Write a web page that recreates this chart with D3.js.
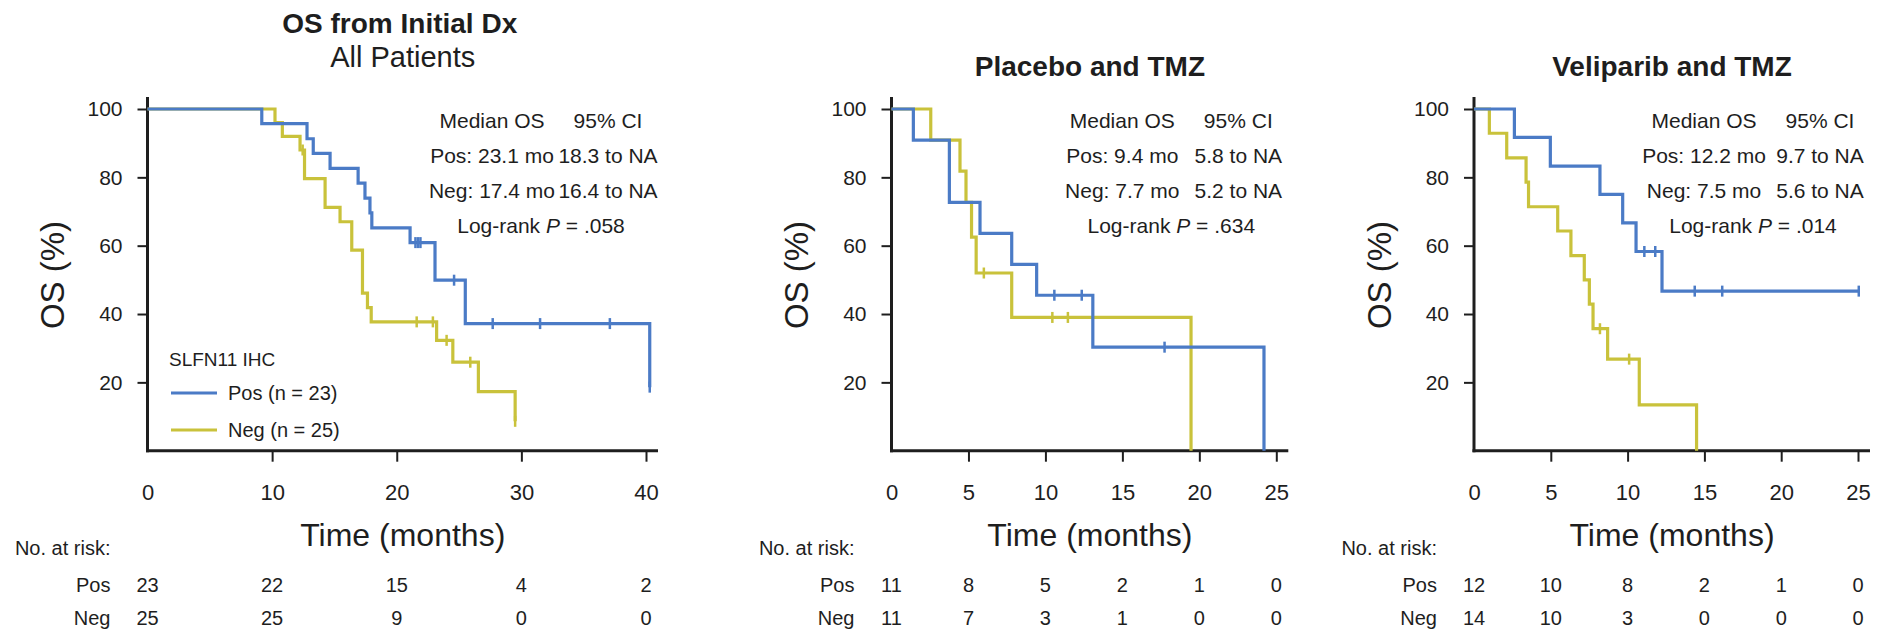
<!DOCTYPE html>
<html>
<head>
<meta charset="utf-8">
<script src="https://cdn.jsdelivr.net/npm/d3@7"></script>
<style>
  body { margin: 0; background: #fff; }
  svg { display: block; font-family: "Liberation Sans", Arial, Helvetica, sans-serif; }
</style>
</head>
<body>
<div id="chart"></div>
<script>
// ---- data ----
const panelTitles = [["OS from Initial Dx", "All Patients"], ["Placebo and TMZ"], ["Veliparib and TMZ"]];
const timeMax = [40, 25, 25];
const timeTicks = [[0, 10, 20, 30, 40], [0, 5, 10, 15, 20, 25], [0, 5, 10, 15, 20, 25]];
const osTicks = [20, 40, 60, 80, 100];

// Kaplan-Meier steps: [months, OS %]
const allPosSteps = [[0, 100], [9.17, 95.7], [12.8, 91.3], [13.3, 87.0], [14.65, 82.6], [16.9, 78.3], [17.45, 73.9], [17.85, 69.6], [18.0, 65.2], [21.07, 60.9], [23.07, 49.9], [25.5, 37.2], [40.3, 18.6]];
const allPosCensor = [21.5, 21.7, 21.9, 24.6, 27.7, 31.5, 37.1, 40.3];
const allNegSteps = [[0, 100], [10.23, 96], [10.82, 92], [12.24, 88], [12.6, 79.6], [14.25, 71.2], [15.45, 67.0], [16.39, 58.7], [17.25, 46.1], [17.65, 41.9], [17.95, 37.7], [23.2, 32.3], [24.5, 25.9], [26.55, 17.3], [29.5, 8.6]];
const allNegCensor = [12.45, 21.6, 22.9, 24.0, 25.9, 29.5];

const plaPosSteps = [[0, 100], [1.42, 90.9], [3.76, 72.7], [5.75, 63.6], [7.81, 54.5], [9.43, 45.5], [13.08, 30.3], [24.2, 0]];
const plaPosCensor = [10.58, 12.36, 17.74];
const plaNegSteps = [[0, 100], [2.55, 90.9], [4.45, 81.8], [4.84, 72.7], [5.2, 62.5], [5.5, 52.0], [7.81, 39.0], [19.46, 0]];
const plaNegCensor = [6.0, 10.45, 11.46];

const velPosSteps = [[0, 100], [2.63, 91.7], [4.97, 83.3], [8.2, 75.0], [9.68, 66.7], [10.55, 58.3], [12.24, 46.7], [25.05, 46.7]];
const velPosCensor = [11.09, 11.8, 14.37, 16.16, 25.05];
const velNegSteps = [[0, 100], [1.0, 92.9], [2.13, 85.7], [3.39, 78.6], [3.55, 71.4], [5.45, 64.3], [6.31, 57.1], [7.18, 50.0], [7.51, 42.9], [7.75, 35.7], [8.7, 26.8], [10.76, 13.4], [14.49, 0]];
const velNegCensor = [8.2, 10.1];

const medianHeader = ["Median OS", "95% CI"];
const posMedian = ["Pos: 23.1 mo", "Pos: 9.4 mo", "Pos: 12.2 mo"];
const posCI = ["18.3 to NA", "5.8 to NA", "9.7 to NA"];
const negMedian = ["Neg: 17.4 mo", "Neg: 7.7 mo", "Neg: 7.5 mo"];
const negCI = ["16.4 to NA", "5.2 to NA", "5.6 to NA"];
const logRankP = [".058", ".634", ".014"];

const riskPos = [[23, 22, 15, 4, 2], [11, 8, 5, 2, 1, 0], [12, 10, 8, 2, 1, 0]];
const riskNeg = [[25, 25, 9, 0, 0], [11, 7, 3, 1, 0, 0], [14, 10, 3, 0, 0, 0]];

const legendTitle = "SLFN11 IHC";
const legendLabels = ["Pos (n = 23)", "Neg (n = 25)"];

const posSeries = [[allPosSteps, allPosCensor], [plaPosSteps, plaPosCensor], [velPosSteps, velPosCensor]];
const negSeries = [[allNegSteps, allNegCensor], [plaNegSteps, plaNegCensor], [velNegSteps, velNegCensor]];

// ---- layout ----
const width = 1880, height = 632;
const blue = "#4b7bc6", yellow = "#c9c23b", ink = "#1e1e1e";
const panels = [
  { left: 147.5, right: 646 },
  { left: 891.5, right: 1276.3 },
  { left: 1474, right: 1858 }
];
const yTop = 109, yBottom = 450.7;

const svg = d3.select("#chart").append("svg")
  .attr("width", width).attr("height", height);

function survAt(steps, t) {
  let s = steps[0][1];
  steps.forEach(d => { if (d[0] <= t + 1e-9) s = d[1]; });
  return s;
}

panels.forEach((p, i) => {
  const x = d3.scaleLinear().domain([0, timeMax[i]]).range([p.left, p.right]);
  const y = d3.scaleLinear().domain([0, 100]).range([yBottom, yTop]);
  const xEndAxis = p.right + 12;
  const cx = (p.left + xEndAxis) / 2;
  const g = svg.append("g");

  // titles
  if (panelTitles[i].length === 2) {
    g.append("text").attr("x", cx - 3).attr("y", 33).attr("text-anchor", "middle")
      .attr("font-size", 28).attr("font-weight", "bold").attr("fill", ink).text(panelTitles[i][0]);
    g.append("text").attr("x", cx).attr("y", 67).attr("text-anchor", "middle")
      .attr("font-size", 29).attr("fill", ink).text(panelTitles[i][1]);
  } else {
    g.append("text").attr("x", cx).attr("y", 76).attr("text-anchor", "middle")
      .attr("font-size", 28).attr("font-weight", "bold").attr("fill", ink).text(panelTitles[i][0]);
  }

  // y axis
  const ya = g.append("g").attr("transform", `translate(${p.left},0)`)
    .call(d3.axisLeft(y).tickValues(osTicks).tickSize(10).tickPadding(15).tickSizeOuter(0));
  ya.select(".domain").remove();
  ya.selectAll(".tick line").attr("stroke", ink).attr("stroke-width", 2);
  ya.selectAll(".tick text").attr("font-size", 21).attr("fill", ink)
    .attr("font-family", '"Liberation Sans", Arial, sans-serif');

  // x axis
  const xa = g.append("g").attr("transform", `translate(0,${yBottom})`)
    .call(d3.axisBottom(x).tickValues(timeTicks[i]).tickSize(11).tickSizeOuter(0));
  xa.select(".domain").remove();
  xa.selectAll(".tick line").attr("stroke", ink).attr("stroke-width", 2)
    .filter(d => d === 0).remove();
  xa.selectAll(".tick text").attr("font-size", 22).attr("fill", ink)
    .attr("font-family", '"Liberation Sans", Arial, sans-serif')
    .attr("y", 49).attr("dy", 0);

  // axis lines
  g.append("line").attr("x1", p.left).attr("x2", p.left)
    .attr("y1", yBottom + 1.5).attr("y2", yTop - 12)
    .attr("stroke", ink).attr("stroke-width", 3);
  g.append("line").attr("x1", p.left - 1.5).attr("x2", xEndAxis)
    .attr("y1", yBottom).attr("y2", yBottom)
    .attr("stroke", ink).attr("stroke-width", 3);

  // curves
  const line = d3.line().x(d => x(d[0])).y(d => y(d[1])).curve(d3.curveStepAfter);
  [[negSeries[i], yellow], [posSeries[i], blue]].forEach(([ser, col]) => {
    const [steps, censor] = ser;
    g.append("path").datum(steps).attr("d", line)
      .attr("fill", "none").attr("stroke", col).attr("stroke-width", 3.2)
      .attr("stroke-linejoin", "miter");
    g.selectAll(null).data(censor).enter().append("line")
      .attr("x1", d => x(d)).attr("x2", d => x(d))
      .attr("y1", d => y(survAt(steps, d)) - 5.5)
      .attr("y2", d => y(survAt(steps, d)) + 5.5)
      .attr("stroke", col).attr("stroke-width", 2.5);
  });

  // median annotation
  const right = xEndAxis;
  const col1 = right - 166, col2 = right - 50, colLR = right - 117;
  const rows = [[medianHeader[0], medianHeader[1]], [posMedian[i], posCI[i]], [negMedian[i], negCI[i]]];
  rows.forEach((r, k) => {
    const yy = 128 + k * 35;
    g.append("text").attr("x", col1).attr("y", yy).attr("text-anchor", "middle")
      .attr("font-size", 21).attr("fill", ink).text(r[0]);
    g.append("text").attr("x", col2).attr("y", yy).attr("text-anchor", "middle")
      .attr("font-size", 21).attr("fill", ink).text(r[1]);
  });
  const lr = g.append("text").attr("x", colLR).attr("y", 233).attr("text-anchor", "middle")
    .attr("font-size", 21).attr("fill", ink);
  lr.append("tspan").text("Log-rank ");
  lr.append("tspan").attr("font-style", "italic").text("P");
  lr.append("tspan").text(" = " + logRankP[i]);

  // y label
  g.append("text")
    .attr("transform", `translate(${p.left - 95 + 11.5},275) rotate(-90)`)
    .attr("text-anchor", "middle").attr("font-size", 33).attr("fill", ink)
    .text("OS (%)");

  // x label
  g.append("text").attr("x", cx).attr("y", 546).attr("text-anchor", "middle")
    .attr("font-size", 32).attr("fill", ink).text("Time (months)");

  // risk table
  const lab = p.left - 37;
  g.append("text").attr("x", lab).attr("y", 555).attr("text-anchor", "end")
    .attr("font-size", 20).attr("fill", ink).text("No. at risk:");
  [["Pos", riskPos[i], 592], ["Neg", riskNeg[i], 625]].forEach(([name, vals, yy]) => {
    g.append("text").attr("x", lab).attr("y", yy).attr("text-anchor", "end")
      .attr("font-size", 20).attr("fill", ink).text(name);
    g.selectAll(null).data(vals).enter().append("text")
      .attr("x", (d, j) => x(timeTicks[i][j])).attr("y", yy)
      .attr("text-anchor", "middle").attr("font-size", 20).attr("fill", ink)
      .text(d => d);
  });

  // legend (first panel only)
  if (i === 0) {
    g.append("text").attr("x", 169).attr("y", 366).attr("font-size", 19).attr("fill", ink).text(legendTitle);
    [[blue, legendLabels[0], 393], [yellow, legendLabels[1], 430]].forEach(([col, txt, yy]) => {
      g.append("line").attr("x1", 171).attr("x2", 217).attr("y1", yy).attr("y2", yy)
        .attr("stroke", col).attr("stroke-width", 3);
      g.append("text").attr("x", 228).attr("y", yy + 7).attr("font-size", 20).attr("fill", ink).text(txt);
    });
  }
});
</script>
</body>
</html>
